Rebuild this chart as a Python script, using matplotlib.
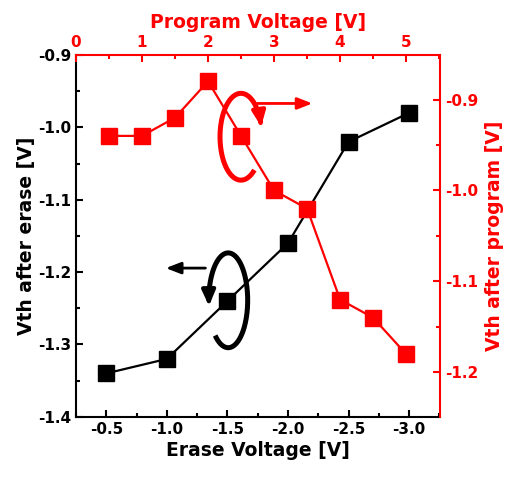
import numpy as np
import matplotlib.pyplot as plt
from matplotlib.ticker import MultipleLocator

plt.rcParams['font.family'] = ['DejaVu Sans']
plt.rcParams['font.weight'] = 'bold'

# erase sweep (bottom / left axes)
erase_v = [-0.5, -1.0, -1.5, -2.0, -2.5, -3.0]
vth_erase = [-1.34, -1.32, -1.24, -1.16, -1.02, -0.98]

# program sweep (top / right axes)
prog_v = [0.5, 1.0, 1.5, 2.0, 2.5, 3.0, 3.5, 4.0, 4.5, 5.0]
vth_prog = [-0.94, -0.94, -0.92, -0.88, -0.94, -1.00, -1.02, -1.12, -1.14, -1.18]

red = '#ff0000'

fig = plt.figure(figsize=(5.1, 4.78), dpi=100)
pos = [0.149, 0.128, 0.714, 0.757]
ax = fig.add_axes(pos)
ax2 = fig.add_axes(pos)
ax2.patch.set_visible(False)

ax.plot(erase_v, vth_erase, '-s', color='black', lw=1.6, ms=11.5)
ax.set_xlim(-0.25, -3.256)
ax.set_ylim(-1.4, -0.9)
ax.xaxis.set_major_locator(MultipleLocator(0.5))
ax.xaxis.set_minor_locator(MultipleLocator(0.25))
ax.yaxis.set_major_locator(MultipleLocator(0.1))
ax.yaxis.set_minor_locator(MultipleLocator(0.05))
ax.xaxis.set_major_formatter(plt.FormatStrFormatter('%.1f'))
ax.yaxis.set_major_formatter(plt.FormatStrFormatter('%.1f'))
ax.set_xlabel('Erase Voltage [V]', fontsize=13.5, fontweight='bold', labelpad=3)
ax.set_ylabel('Vth after erase [V]', fontsize=13.5, fontweight='bold', labelpad=1)
ax.tick_params(which='both', direction='in', labelsize=11, width=1.5, top=False, right=False)
ax.tick_params(which='major', length=5)
ax.tick_params(which='minor', length=3)
for side in ['left', 'bottom']:
    ax.spines[side].set_linewidth(1.5)
ax.spines['top'].set_visible(False)
ax.spines['right'].set_visible(False)

ax2.plot(prog_v, vth_prog, '-s', color=red, lw=1.6, ms=11.5)
ax2.set_xlim(0, 5.515)
ax2.set_ylim(-1.249, -0.851)
ax2.xaxis.tick_top()
ax2.xaxis.set_label_position('top')
ax2.yaxis.tick_right()
ax2.yaxis.set_label_position('right')
ax2.xaxis.set_major_locator(MultipleLocator(1))
ax2.xaxis.set_minor_locator(MultipleLocator(0.5))
ax2.yaxis.set_major_locator(MultipleLocator(0.1))
ax2.yaxis.set_minor_locator(MultipleLocator(0.05))
ax2.yaxis.set_major_formatter(plt.FormatStrFormatter('%.1f'))
ax2.set_xlabel('Program Voltage [V]', fontsize=13.5, fontweight='bold', color=red, labelpad=5)
ax2.set_ylabel('Vth after program [V]', fontsize=13.5, fontweight='bold', color=red, labelpad=5)
ax2.tick_params(which='both', direction='in', labelsize=11, width=1.5, colors=red,
                bottom=False, left=False)
ax2.tick_params(which='major', length=5)
ax2.tick_params(which='minor', length=3)
ax2.spines['bottom'].set_visible(False)
ax2.spines['left'].set_visible(False)
for side in ['top', 'right']:
    ax2.spines[side].set_color(red)
    ax2.spines[side].set_linewidth(1.5)


def ring(axis, cx, cy, w, h, t0, t1, color):
    # open ellipse with an arrow head at the end, in axes fractions
    t = np.radians(np.linspace(t0, t1, 200))
    x = cx + w / 2 * np.cos(t)
    y = cy + h / 2 * np.sin(t)
    axis.plot(x[:-6], y[:-6], color=color, lw=3.6, transform=axis.transAxes, clip_on=False,
              solid_capstyle='butt')
    axis.annotate('', xy=(x[-1], y[-1]), xytext=(x[-10], y[-10]),
                  xycoords='axes fraction', textcoords='axes fraction',
                  arrowprops=dict(arrowstyle='-|>,head_length=0.9,head_width=0.4',
                                  color=color, lw=3))


# red ring, clockwise, pointing to the right axis
ring(ax2, 0.453, 0.774, 0.115, 0.240, -50, -350, red)
ax2.annotate('', xy=(0.657, 0.866), xytext=(0.49, 0.866),
             xycoords='axes fraction', textcoords='axes fraction',
             arrowprops=dict(arrowstyle='-|>,head_length=0.9,head_width=0.35', color=red, lw=2))

# black ring, counter-clockwise, pointing to the left axis
ring(ax, 0.418, 0.322, 0.107, 0.262, 228, 550, 'black')
ax.annotate('', xy=(0.239, 0.411), xytext=(0.363, 0.411),
            xycoords='axes fraction', textcoords='axes fraction',
            arrowprops=dict(arrowstyle='-|>,head_length=0.9,head_width=0.35', color='black', lw=2))

plt.savefig('out.png', dpi=100)
